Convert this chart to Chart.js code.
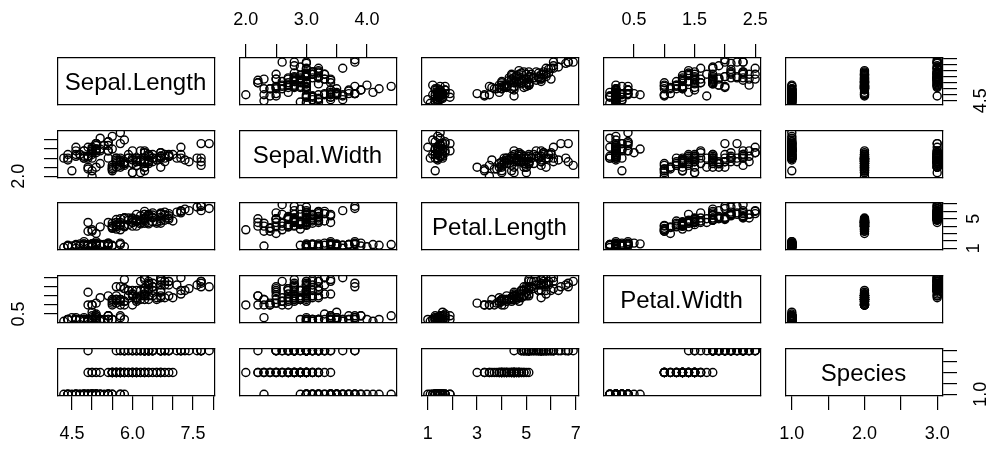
<!DOCTYPE html>
<html>
<head>
<meta charset="utf-8">
<script src="https://cdn.jsdelivr.net/npm/chart.js@4.4.1/dist/chart.umd.min.js"></script>
<style>
  html, body { margin: 0; padding: 0; background: #fff; }
  #wrap { position: relative; width: 992px; height: 450px; overflow: hidden; }
  #wrap canvas { position: absolute; }
</style>
</head>
<body>
<div id="wrap"></div>
<script>
// iris, 150 rows
const varNames = ['Sepal.Length', 'Sepal.Width', 'Petal.Length', 'Petal.Width', 'Species'];

const sepalLength = [
  5.1,4.9,4.7,4.6,5.0,5.4,4.6,5.0,4.4,4.9,5.4,4.8,4.8,4.3,5.8,5.7,5.4,5.1,5.7,5.1,5.4,5.1,4.6,5.1,4.8,
  5.0,5.0,5.2,5.2,4.7,4.8,5.4,5.2,5.5,4.9,5.0,5.5,4.9,4.4,5.1,5.0,4.5,4.4,5.0,5.1,4.8,5.1,4.6,5.3,5.0,
  7.0,6.4,6.9,5.5,6.5,5.7,6.3,4.9,6.6,5.2,5.0,5.9,6.0,6.1,5.6,6.7,5.6,5.8,6.2,5.6,5.9,6.1,6.3,6.1,6.4,
  6.6,6.8,6.7,6.0,5.7,5.5,5.5,5.8,6.0,5.4,6.0,6.7,6.3,5.6,5.5,5.5,6.1,5.8,5.0,5.6,5.7,5.7,6.2,5.1,5.7,
  6.3,5.8,7.1,6.3,6.5,7.6,4.9,7.3,6.7,7.2,6.5,6.4,6.8,5.7,5.8,6.4,6.5,7.7,7.7,6.0,6.9,5.6,7.7,6.3,6.7,
  7.2,6.2,6.1,6.4,7.2,7.4,7.9,6.4,6.3,6.1,7.7,6.3,6.4,6.0,6.9,6.7,6.9,5.8,6.8,6.7,6.7,6.3,6.5,6.2,5.9
];
const sepalWidth = [
  3.5,3.0,3.2,3.1,3.6,3.9,3.4,3.4,2.9,3.1,3.7,3.4,3.0,3.0,4.0,4.4,3.9,3.5,3.8,3.8,3.4,3.7,3.6,3.3,3.4,
  3.0,3.4,3.5,3.4,3.2,3.1,3.4,4.1,4.2,3.1,3.2,3.5,3.6,3.0,3.4,3.5,2.3,3.2,3.5,3.8,3.0,3.8,3.2,3.7,3.3,
  3.2,3.2,3.1,2.3,2.8,2.8,3.3,2.4,2.9,2.7,2.0,3.0,2.2,2.9,2.9,3.1,3.0,2.7,2.2,2.5,3.2,2.8,2.5,2.8,2.9,
  3.0,2.8,3.0,2.9,2.6,2.4,2.4,2.7,2.7,3.0,3.4,3.1,2.3,3.0,2.5,2.6,3.0,2.6,2.3,2.7,3.0,2.9,2.9,2.5,2.8,
  3.3,2.7,3.0,2.9,3.0,3.0,2.5,2.9,2.5,3.6,3.2,2.7,3.0,2.5,2.8,3.2,3.0,3.8,2.6,2.2,3.2,2.8,2.8,2.7,3.3,
  3.2,2.8,3.0,2.8,3.0,2.8,3.8,2.8,2.8,2.6,3.0,3.4,3.1,3.0,3.1,3.1,3.1,2.7,3.2,3.3,3.0,2.5,3.0,3.4,3.0
];
const petalLength = [
  1.4,1.4,1.3,1.5,1.4,1.7,1.4,1.5,1.4,1.5,1.5,1.6,1.4,1.1,1.2,1.5,1.3,1.4,1.7,1.5,1.7,1.5,1.0,1.7,1.9,
  1.6,1.6,1.5,1.4,1.6,1.6,1.5,1.5,1.4,1.5,1.2,1.3,1.4,1.3,1.5,1.3,1.3,1.3,1.6,1.9,1.4,1.6,1.4,1.5,1.4,
  4.7,4.5,4.9,4.0,4.6,4.5,4.7,3.3,4.6,3.9,3.5,4.2,4.0,4.7,3.6,4.4,4.5,4.1,4.5,3.9,4.8,4.0,4.9,4.7,4.3,
  4.4,4.8,5.0,4.5,3.5,3.8,3.7,3.9,5.1,4.5,4.5,4.7,4.4,4.1,4.0,4.4,4.6,4.0,3.3,4.2,4.2,4.2,4.3,3.0,4.1,
  6.0,5.1,5.9,5.6,5.8,6.6,4.5,6.3,5.8,6.1,5.1,5.3,5.5,5.0,5.1,5.3,5.5,6.7,6.9,5.0,5.7,4.9,6.7,4.9,5.7,
  6.0,4.8,4.9,5.6,5.8,6.1,6.4,5.6,5.1,5.6,6.1,5.6,5.5,4.8,5.4,5.6,5.1,5.1,5.9,5.7,5.2,5.0,5.2,5.4,5.1
];
const petalWidth = [
  0.2,0.2,0.2,0.2,0.2,0.4,0.3,0.2,0.2,0.1,0.2,0.2,0.1,0.1,0.2,0.4,0.4,0.3,0.3,0.3,0.2,0.4,0.2,0.5,0.2,
  0.2,0.4,0.2,0.2,0.2,0.2,0.4,0.1,0.2,0.2,0.2,0.2,0.1,0.2,0.2,0.3,0.3,0.2,0.6,0.4,0.3,0.2,0.2,0.2,0.2,
  1.4,1.5,1.5,1.3,1.5,1.3,1.6,1.0,1.3,1.4,1.0,1.5,1.0,1.4,1.3,1.4,1.5,1.0,1.5,1.1,1.8,1.3,1.5,1.2,1.3,
  1.4,1.4,1.7,1.5,1.0,1.1,1.0,1.2,1.6,1.5,1.6,1.5,1.3,1.3,1.3,1.2,1.4,1.2,1.0,1.3,1.2,1.3,1.3,1.1,1.3,
  2.5,1.9,2.1,1.8,2.2,2.1,1.7,1.8,1.8,2.5,2.0,1.9,2.1,2.0,2.4,2.3,1.8,2.2,2.3,1.5,2.3,2.0,2.0,1.8,2.1,
  1.8,1.8,1.8,2.1,1.6,1.9,2.0,2.2,1.5,1.4,2.3,2.4,1.8,1.8,2.1,2.4,2.3,1.9,2.3,2.5,2.3,1.9,2.0,2.3,1.8
];
// setosa = 1, versicolor = 2, virginica = 3
const species = [].concat(Array(50).fill(1), Array(50).fill(2), Array(50).fill(3));

// tick positions per variable
const sepalLengthTicks = [4.5, 5.0, 5.5, 6.0, 6.5, 7.0, 7.5, 8.0];
const sepalWidthTicks = [2.0, 2.5, 3.0, 3.5, 4.0];
const petalLengthTicks = [1, 2, 3, 4, 5, 6, 7];
const petalWidthTicks = [0.5, 1.0, 1.5, 2.0, 2.5];
const speciesTicks = [1.0, 1.5, 2.0, 2.5, 3.0];

// which ticks get a printed label (R drops the ones that would overlap)
const xTickLabels = [['4.5', '6.0', '7.5'], ['2.0', '3.0', '4.0'], ['1', '3', '5', '7'], ['0.5', '1.5', '2.5'], ['1.0', '2.0', '3.0']];
const yTickLabels = [['4.5'], ['2.0'], ['1', '5'], ['0.5'], ['1.0']];
const tickDecimals = [1, 1, 0, 1, 1];

const vars = [sepalLength, sepalWidth, petalLength, petalWidth, species];
const ticks = [sepalLengthTicks, sepalWidthTicks, petalLengthTicks, petalWidthTicks, speciesTicks];

// panel geometry
const colLeft = [58, 240, 422, 604, 786];
const rowTop = [58, 131, 203, 276, 349];
const panelW = 157, panelH = 47, M = 60;

Chart.defaults.font.family = '"Liberation Sans", Arial, sans-serif';
Chart.defaults.font.size = 18;
Chart.defaults.color = '#000';

// R pads the data range by 4% on each side
function range(v) {
  const lo = Math.min(...v), hi = Math.max(...v);
  const d = (hi - lo) * 0.04;
  return [lo - d, hi + d];
}

const diagLabel = {
  id: 'diagLabel',
  afterDraw(chart, args, opts) {
    if (!opts.text) return;
    const { ctx, chartArea: a } = chart;
    ctx.save();
    ctx.font = '24px "Liberation Sans", Arial, sans-serif';
    ctx.fillStyle = '#000';
    ctx.textAlign = 'center';
    ctx.textBaseline = 'alphabetic';
    ctx.fillText(opts.text, (a.left + a.right) / 2 - 1, (a.top + a.bottom) / 2 + 8.5);
    ctx.restore();
  }
};
Chart.register(diagLabel);

function makeScale(pos, v, show, labels) {
  const [lo, hi] = range(vars[v]);
  const vertical = pos === 'left' || pos === 'right';
  return {
    type: 'linear',
    position: pos,
    axis: vertical ? 'y' : 'x',
    min: lo,
    max: hi,
    afterBuildTicks: (s) => { s.ticks = ticks[v].map((t) => ({ value: t })); },
    afterFit: (s) => {
      if (vertical) s.width = M; else s.height = M;
      s.paddingLeft = s.paddingRight = s.paddingTop = s.paddingBottom = 0;
    },
    border: { display: true, color: '#000', width: 1.2 },
    grid: { display: show, drawOnChartArea: false, drawTicks: true, tickLength: 14, color: '#000', lineWidth: 1.2 },
    ticks: {
      display: show,
      autoSkip: false,
      padding: vertical ? 12 : 13,
      minRotation: vertical ? 90 : 0,
      maxRotation: vertical ? 90 : 0,
      crossAlign: vertical ? 'center' : 'near',
      callback: (value) => {
        const s = Number(value).toFixed(tickDecimals[v]);
        return labels.includes(s) ? s : '';
      }
    }
  };
}

const wrap = document.getElementById('wrap');

for (let i = 0; i < 5; i++) {      // row -> y variable
  for (let j = 0; j < 5; j++) {    // col -> x variable
    const canvas = document.createElement('canvas');
    canvas.width = panelW + 2 * M;
    canvas.height = panelH + 2 * M;
    canvas.style.left = (colLeft[j] - M) + 'px';
    canvas.style.top = (rowTop[i] - M) + 'px';
    canvas.style.width = canvas.width + 'px';
    canvas.style.height = canvas.height + 'px';
    wrap.appendChild(canvas);

    const xs = vars[j], ys = vars[i];
    const datasets = i === j ? [] : [{
      data: xs.map((x, k) => ({ x: x, y: ys[k] })),
      pointStyle: 'circle',
      pointRadius: 4,
      borderWidth: 1.4,
      borderColor: '#000',
      backgroundColor: 'rgba(0,0,0,0)',
      clip: 0
    }];

    new Chart(canvas, {
      type: 'scatter',
      data: { datasets: datasets },
      options: {
        responsive: false,
        animation: false,
        events: [],
        layout: { padding: 0 },
        plugins: {
          legend: { display: false },
          tooltip: { enabled: false },
          diagLabel: { text: i === j ? varNames[i] : '' }
        },
        scales: {
          x: makeScale('bottom', j, i === 4 && j % 2 === 0, xTickLabels[j]),
          x2: makeScale('top', j, i === 0 && j % 2 === 1, xTickLabels[j]),
          y: makeScale('left', i, j === 0 && i % 2 === 1, yTickLabels[i]),
          y2: makeScale('right', i, j === 4 && i % 2 === 0, yTickLabels[i])
        }
      }
    });
  }
}
</script>
</body>
</html>
